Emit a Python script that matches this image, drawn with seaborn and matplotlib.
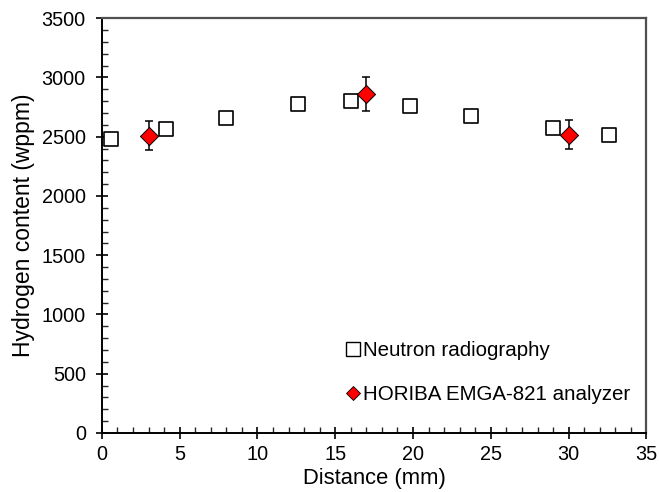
import matplotlib
matplotlib.use("Agg")
import matplotlib.pyplot as plt
import seaborn as sns
import pandas as pd
from matplotlib.ticker import MultipleLocator
from matplotlib.lines import Line2D

sns.set_style("white")
plt.rcParams['font.family'] = ['Liberation Sans', 'DejaVu Sans']

nr_distance = [0.6, 4.1, 8.0, 12.6, 16.0, 19.8, 23.7, 29.0, 32.6]
nr_hydrogen = [2478, 2567, 2655, 2777, 2804, 2758, 2673, 2572, 2515]

hor_distance = [3.0, 17.0, 30.0]
hor_hydrogen = [2508, 2857, 2518]
hor_error = [124, 143, 125]

df_nr = pd.DataFrame({"Distance": nr_distance, "Hydrogen": nr_hydrogen})
df_hor = pd.DataFrame({"Distance": hor_distance, "Hydrogen": hor_hydrogen, "err": hor_error})

fig = plt.figure(figsize=(6.59, 4.92), dpi=100)
ax = fig.add_axes([0.1545, 0.12, 0.8265, 0.843])

sns.scatterplot(data=df_nr, x="Distance", y="Hydrogen", ax=ax, marker="s", s=100,
                facecolor="white", edgecolor="black", linewidth=1.2, zorder=3, legend=False)
ax.errorbar(df_hor["Distance"], df_hor["Hydrogen"], yerr=df_hor["err"], fmt="none",
            ecolor="black", elinewidth=1.1, capsize=3, capthick=1.1, zorder=4)
sns.scatterplot(data=df_hor, x="Distance", y="Hydrogen", ax=ax, marker="D", s=85,
                color="#ff0000", edgecolor="black", linewidth=0.7, zorder=5, legend=False)

ax.set_xlim(0, 35)
ax.set_ylim(0, 3500)
ax.xaxis.set_major_locator(MultipleLocator(5))
ax.xaxis.set_minor_locator(MultipleLocator(1))
ax.yaxis.set_major_locator(MultipleLocator(500))
ax.yaxis.set_minor_locator(MultipleLocator(100))
ax.tick_params(which="major", direction="inout", length=9, width=1.2, labelsize=14.3,
               colors="black", labelcolor="black")
ax.tick_params(which="minor", direction="in", length=4, width=1.0)
ax.tick_params(axis="both", which="both", bottom=True, left=True, top=False, right=False)
ax.tick_params(axis="x", pad=4)
ax.tick_params(axis="y", pad=7)

for side in ["left", "bottom"]:
    ax.spines[side].set_color("black")
    ax.spines[side].set_linewidth(1.4)
for side in ["top", "right"]:
    ax.spines[side].set_color("#505050")
    ax.spines[side].set_linewidth(1.6)

ax.set_xlabel("Distance (mm)", fontsize=15.8, labelpad=3, color="black")
ax.set_ylabel("Hydrogen content (wppm)", fontsize=16.5, labelpad=5, color="black")

handles = [
    Line2D([], [], linestyle="none", marker="s", markersize=9.5, markerfacecolor="white",
           markeredgecolor="black", markeredgewidth=1.0),
    Line2D([], [], linestyle="none", marker="D", markersize=7, markerfacecolor="#ff0000",
           markeredgecolor="black", markeredgewidth=0.6),
]
ax.legend(handles, ["Neutron radiography", "HORIBA EMGA-821 analyzer"], loc="lower left",
          bbox_to_anchor=(0.415, 0.025), frameon=False, fontsize=14.8, handlelength=0.6,
          handletextpad=0.2, labelspacing=1.2, labelcolor="black")

fig.savefig("out.png", dpi=100)
